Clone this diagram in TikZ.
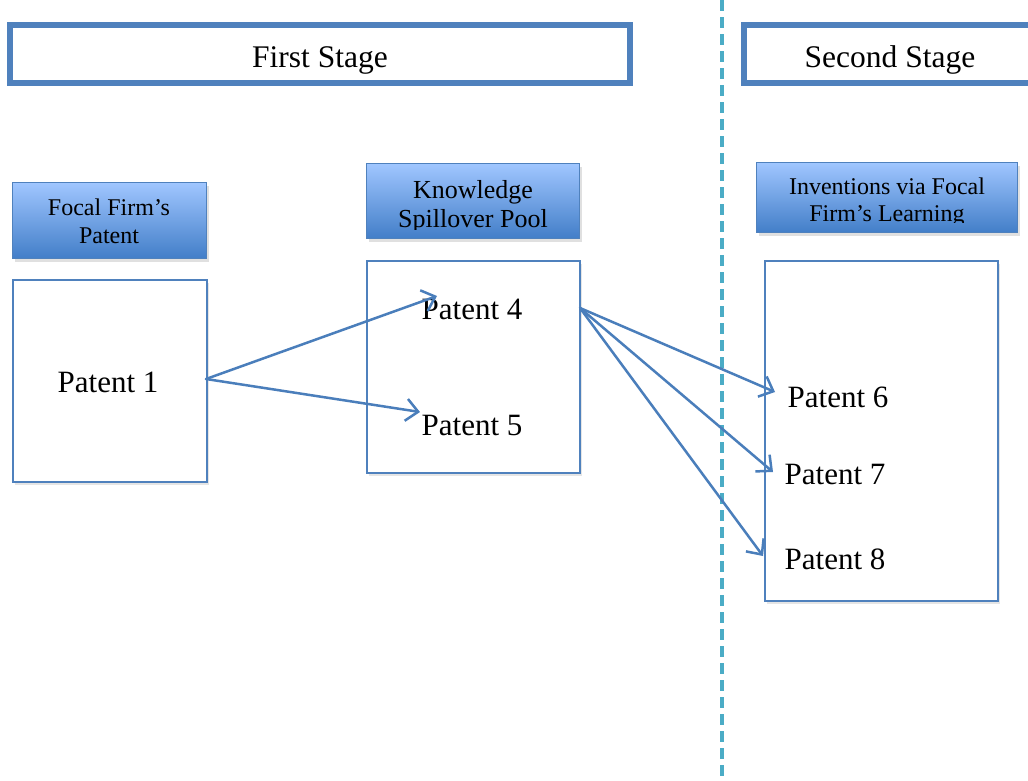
\documentclass[tikz,border=0pt]{standalone}
\usepackage{fontspec}
\setmainfont{Liberation Serif}
\usetikzlibrary{arrows.meta,shadows}
\definecolor{frame}{RGB}{79,129,189}
\definecolor{gradtop}{RGB}{160,198,255}
\definecolor{gradbot}{RGB}{66,126,200}
\definecolor{divider}{RGB}{75,172,198}
\definecolor{link}{RGB}{74,126,187}
\tikzset{
  stagebox/.style={draw=frame, line width=5.5pt, fill=white},
  headbox/.style={draw=frame, line width=1.2pt, top color=gradtop, bottom color=gradbot,
    drop shadow={shadow xshift=2pt, shadow yshift=-3pt, fill=black, opacity=0.12}},
  patbox/.style={draw=frame, line width=2pt, fill=white,
    drop shadow={shadow xshift=2pt, shadow yshift=-3pt, fill=black, opacity=0.10}},
  headtxt/.style={font=\fontsize{24}{28}\selectfont, align=center, inner sep=0pt},
  pattxt/.style={font=\fontsize{31}{34}\selectfont, inner sep=0pt},
  stagetxt/.style={font=\fontsize{31.5}{34}\selectfont, inner sep=0pt},
  link/.style={draw=link, line width=2.5pt, line cap=round,
    -{Straight Barb[length=12pt, width=22pt, line width=2.5pt]}}
}
\begin{document}
\begin{tikzpicture}[x=1pt, y=-1pt]
\useasboundingbox[fill=white] (0,0) rectangle (1028,780);

% stage banners
\draw[stagebox] (10,25) rectangle (630,83);
\draw[stagebox] (744,25) rectangle (1045,83);
\begin{scope}
  \clip (13,28) rectangle (627,80);
  \node[stagetxt, anchor=base] (s1) at (320,67) {First Stage};
\end{scope}
\begin{scope}
  \clip (747,28) rectangle (1028,80);
  \node[stagetxt, anchor=base] (s2) at (890,67) {Second Stage};
\end{scope}

% stage divider
\draw[divider, line width=4pt, dash pattern=on 11pt off 6pt] (722,0) -- (722,780);

% column headers
\node[headbox, minimum width=194pt, minimum height=76pt, anchor=north west] (h1) at (12,182) {};
\node[headbox, minimum width=213pt, minimum height=75pt, anchor=north west] (h2) at (366,163) {};
\node[headbox, minimum width=261pt, minimum height=70pt, anchor=north west] (h3) at (756,162) {};
\node[headtxt, anchor=base] (h1a) at (109,215) {Focal Firm’s};
\node[headtxt, anchor=base] (h1b) at (109,243) {Patent};
\begin{scope}
  \clip (367,164) rectangle (578,229);
  \node[headtxt, font=\fontsize{26}{30}\selectfont, anchor=base] (h2a) at (473,198) {Knowledge};
  \node[headtxt, font=\fontsize{26}{30}\selectfont, anchor=base] (h2b) at (473,227) {Spillover Pool};
\end{scope}
\begin{scope}
  \clip (757,163) rectangle (1016,222);
  \node[headtxt, anchor=base] (h3a) at (887,194) {Inventions via Focal};
  \node[headtxt, anchor=base] (h3b) at (887,221) {Firm’s Learning};
\end{scope}

% patent containers
\node[patbox, minimum width=194pt, minimum height=202pt, anchor=north west] (b1) at (12,279) {};
\node[patbox, minimum width=213pt, minimum height=212pt, anchor=north west] (b2) at (366,260) {};
\node[patbox, minimum width=233pt, minimum height=340pt, anchor=north west] (b3) at (764,260) {};

% patent labels
\node[pattxt] (p1) at (108,382) {Patent 1};
\node[pattxt] (p4) at (472,309) {Patent 4};
\node[pattxt] (p5) at (472,425) {Patent 5};
\node[pattxt] (p6) at (838,397) {Patent 6};
\node[pattxt] (p7) at (835,474) {Patent 7};
\node[pattxt] (p8) at (835,559) {Patent 8};

% citation links
\coordinate (o1) at (206,379);
\coordinate (o2) at (580,308);
\coordinate (e4) at (437,296);
\coordinate (e5) at (420,412);
\coordinate (e6) at (775,392);
\coordinate (e7) at (773,472);
\coordinate (e8) at (763,556);
\draw[link] (o1) -- (e4);
\draw[link] (o1) -- (e5);
\draw[link] (o2) -- (e6);
\draw[link] (o2) -- (e7);
\draw[link] (o2) -- (e8);
\end{tikzpicture}
\end{document}
